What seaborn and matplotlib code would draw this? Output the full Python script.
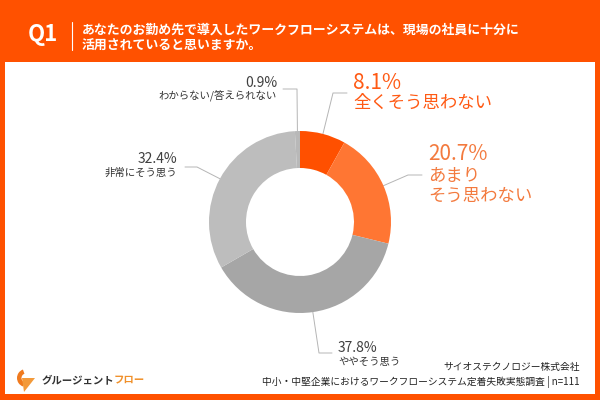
import numpy as np
import seaborn as sns
from matplotlib import pyplot as plt
from matplotlib.patches import Rectangle, Wedge, Polygon

# data
labels = ['全くそう思わない', 'あまり\nそう思わない', 'ややそう思う', '非常にそう思う', 'わからない/答えられない']
values = [8.1, 20.7, 37.8, 32.4, 0.9]
colors = ['#FF5000', '#FF7633', '#A6A6A6', '#BDBDBD', '#B8B8B8']

title = 'あなたのお勤め先で導入したワークフローシステムは、現場の社員に十分に\n活用されていると思いますか。'
source1 = 'サイオステクノロジー株式会社'
source2 = '中小・中堅企業におけるワークフローシステム定着失敗実態調査 | n=111'

sns.set_theme(style='white')
plt.rcParams['font.family'] = ['Noto Sans CJK JP', 'DejaVu Sans']

ORANGE = '#FF5100'
W, H = 600, 400
CX, CY, R = 300, 222, 91   # donut centre / radius in pixels

fig = plt.figure(figsize=(6, 4), dpi=100, facecolor=ORANGE)

# overlay in pixel coordinates (y down)
ov = fig.add_axes([0, 0, 1, 1])
ov.set_xlim(0, W)
ov.set_ylim(H, 0)
ov.axis('off')
ov.add_patch(Rectangle((5, 62), 590, 332, color='white', lw=0))

# header
ov.text(28, 35, 'Q1', color='white', fontsize=16, fontweight='bold', va='center', ha='left')
ov.plot([72, 72], [22, 50], color='white', lw=0.8)
ov.text(82, 38, title, color='white', fontsize=9.3, fontweight='bold', va='center', ha='left',
        linespacing=1.2)

# donut
ax = fig.add_axes([(CX - R) / W, (H - CY - R) / H, 2 * R / W, 2 * R / H])
ax.pie(values, colors=colors, startangle=90, counterclock=False, radius=1,
       wedgeprops=dict(width=37 / R, edgecolor='none'))
ax.set_xlim(-1, 1)
ax.set_ylim(-1, 1)
ax.set_aspect('equal')
ax.axis('off')

# label layout: elbow, line end, text x, alignment, style
layout = [
    dict(elbow=(333, 93), end=(347, 93), tx=353, ty=(83, 103), ha='left', big=True, col='#FF5A14'),
    dict(elbow=(408, 175), end=(422, 175), tx=428, ty=(154, 186), ha='left', big=True, col='#F37A3E'),
    dict(elbow=(319, 353), end=(332, 353), tx=338, ty=(348, 362), ha='left', big=False, col='#404040'),
    dict(elbow=(197, 167), end=(185, 167), tx=177, ty=(159, 173), ha='right', big=False, col='#404040'),
    dict(elbow=(297, 89), end=(283, 89), tx=277, ty=(83, 96), ha='right', big=False, col='#404040'),
]

cum = np.cumsum([0] + values)
total = sum(values)
for i, (lab, val) in enumerate(zip(labels, values)):
    mid = (cum[i] + val / 2) / total
    ang = np.deg2rad(90 - 360 * mid)
    sx, sy = CX + R * np.cos(ang), CY - R * np.sin(ang)
    lo = layout[i]
    ov.plot([sx, lo['elbow'][0], lo['end'][0]], [sy, lo['elbow'][1], lo['end'][1]],
            color='#B5B5B5', lw=0.7)
    if lo['big']:
        ov.text(lo['tx'], lo['ty'][0], f'{val}%', color=lo['col'], fontsize=15,
                ha=lo['ha'], va='center')
        ov.text(lo['tx'], lo['ty'][1], lab, color=lo['col'], fontsize=12.5,
                ha=lo['ha'], va='center', linespacing=1.15)
    else:
        ov.text(lo['tx'], lo['ty'][0], f'{val}%', color=lo['col'], fontsize=10,
                ha=lo['ha'], va='center')
        ov.text(lo['tx'], lo['ty'][1], lab, color='#333333', fontsize=7.5,
                ha=lo['ha'], va='center')

# footer
ov.text(580, 367, source1, color='#222222', fontsize=7, ha='right', va='center')
ov.text(580, 382, source2, color='#222222', fontsize=7, ha='right', va='center')

# logo
ov.add_patch(Wedge((26, 378), 9, 110, 250, width=4.5, color='#F07A1E', lw=0))
ov.add_patch(Polygon([[22, 378], [35, 378], [24, 392]], closed=True, color='#F39A3A', lw=0))
brand = ov.text(42, 380, 'グルージェント', color='#333333', fontsize=7.5, fontweight='bold',
                ha='left', va='center')
ov.annotate('フロー', xy=(1, 0.5), xycoords=brand, xytext=(-0.8, 0), textcoords='offset points',
            color='#F0902A', fontsize=7.5, fontweight='bold', ha='left', va='center')

fig.savefig('out.png', dpi=100, facecolor=fig.get_facecolor())
